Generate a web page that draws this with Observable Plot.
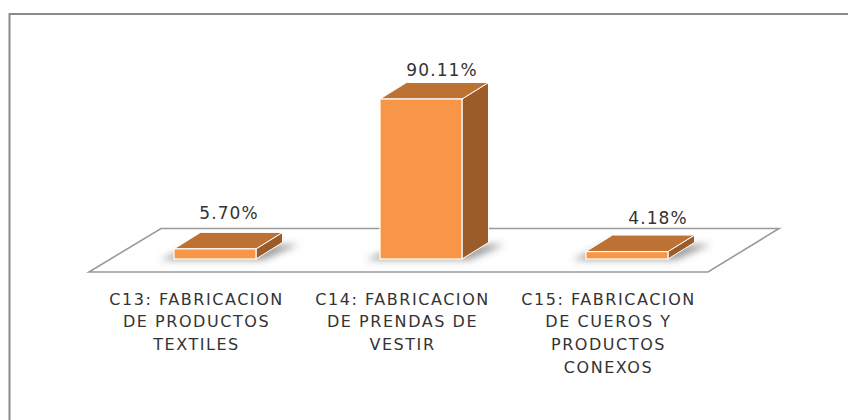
<!DOCTYPE html>
<html>
<head>
<meta charset="utf-8">
<script src="https://cdn.jsdelivr.net/npm/d3@7"></script>
<script src="https://cdn.jsdelivr.net/npm/@observablehq/plot@0.6"></script>
<style>
  html, body { margin: 0; padding: 0; background: #fff; }
  #chart svg { display: block; }
</style>
</head>
<body>
<div id="chart"></div>
<script>
// ---- data ----
const categories = [
  "C13: FABRICACION\nDE PRODUCTOS\nTEXTILES",
  "C14: FABRICACION\nDE PRENDAS DE\nVESTIR",
  "C15: FABRICACION\nDE CUEROS Y\nPRODUCTOS\nCONEXOS"
];
const values = [5.70, 90.11, 4.18];
const valueLabels = ["5.70%", "90.11%", "4.18%"];

const data = categories.map((c, i) => ({cat: c, value: values[i], label: valueLabels[i], i}));

// ---- style / layout constants ----
const FRONT = "#F79646", TOP = "#BD7133", SIDE = "#9C5C2A";
const DEPTH = {dx: 26.5, dy: -16.5};
const labelDx = [13.5, 20.5, 30.5];
const labelDy = [-30, -24, -28];

function faces(index, scales) {
  const x = scales.x, y = scales.y;
  const bw = x.bandwidth();
  const y0 = y(0);
  const g = d3.create("svg:g");
  const defs = g.append("defs");
  defs.append("filter").attr("id", "shadowblur")
    .attr("x", "-50%").attr("y", "-200%").attr("width", "200%").attr("height", "500%")
    .append("feGaussianBlur").attr("stdDeviation", 3.5);
  // floor
  const xa = x(categories[0]), xb = x(categories[categories.length - 1]) + bw;
  const floor = [[xa - 85, y0 + 13], [xb + 40, y0 + 13], [xb + 111, y0 - 30.5], [xa - 13, y0 - 30.5]];
  g.append("polygon").attr("points", floor.map(p => p.join(",")).join(" "))
    .attr("fill", "#fff").attr("stroke", "#9a9a9a").attr("stroke-width", 1.6);
  for (const d of data) {
    const x0 = x(d.cat), x1 = x0 + bw, yt = y(d.value);
    // shadow
    const sh = [[x0 - 14, y0 + 1], [x1 + 8, y0 + 1], [x1 + DEPTH.dx + 16, y0 + DEPTH.dy + 2], [x0 + DEPTH.dx - 6, y0 + DEPTH.dy + 2]];
    g.append("polygon").attr("points", sh.map(p => p.join(",")).join(" "))
      .attr("fill", "#555").attr("fill-opacity", 0.55).attr("filter", "url(#shadowblur)");
    const side = [[x1, yt], [x1 + DEPTH.dx, yt + DEPTH.dy], [x1 + DEPTH.dx, y0 + DEPTH.dy], [x1, y0]];
    g.append("polygon").attr("points", side.map(p => p.join(",")).join(" "))
      .attr("fill", SIDE).attr("stroke", "#fff").attr("stroke-width", 1).attr("stroke-linejoin", "round");
    const top = [[x0, yt], [x1, yt], [x1 + DEPTH.dx, yt + DEPTH.dy], [x0 + DEPTH.dx, yt + DEPTH.dy]];
    g.append("polygon").attr("points", top.map(p => p.join(",")).join(" "))
      .attr("fill", TOP).attr("stroke", "#fff").attr("stroke-width", 1).attr("stroke-linejoin", "round");
  }
  return g.node();
}

const marks = [
  faces,
  Plot.barY(data, {x: "cat", y: "value", fill: FRONT, stroke: "#fff", strokeWidth: 1.2}),
  Plot.text(data, {
    x: "cat", text: "cat", frameAnchor: "bottom", lineAnchor: "top",
    dx: -19, dy: 28.8, fontSize: 16, lineHeight: 1.43,
    fill: "#333", fontFamily: "DejaVu Sans"
  })
];
data.forEach((d, i) => {
  marks.push(Plot.text([d], {
    x: "cat", y: "value", text: "label",
    dx: labelDx[i], dy: labelDy[i] - 5.4, fontSize: 17,
    fill: "#333", fontFamily: "DejaVu Sans"
  }));
});

const chart = Plot.plot({
  width: 848,
  height: 420,
  marginLeft: 49,
  marginRight: 54,
  marginTop: 81,
  marginBottom: 161,
  x: {domain: categories, padding: 0.6, axis: null},
  y: {domain: [0, 100], range: [259, 81.44], axis: null},
  style: {background: "#fff", fontFamily: "DejaVu Sans", overflow: "visible"},
  marks
});

const svg = d3.select(chart);
svg.selectAll('g[font-size="16"] text, g[font-size="16"] tspan').style("letter-spacing", "1.55px");
svg.selectAll('g[font-size="17"] text').style("letter-spacing", "1.1px");
// outer chart-area frame (top and left edges visible)
svg.append("path").attr("d", "M9.5,420 L9.5,14 L848,14")
  .attr("fill", "none").attr("stroke", "#8a8a8a").attr("stroke-width", 2);

document.getElementById("chart").appendChild(chart);
</script>
</body>
</html>
